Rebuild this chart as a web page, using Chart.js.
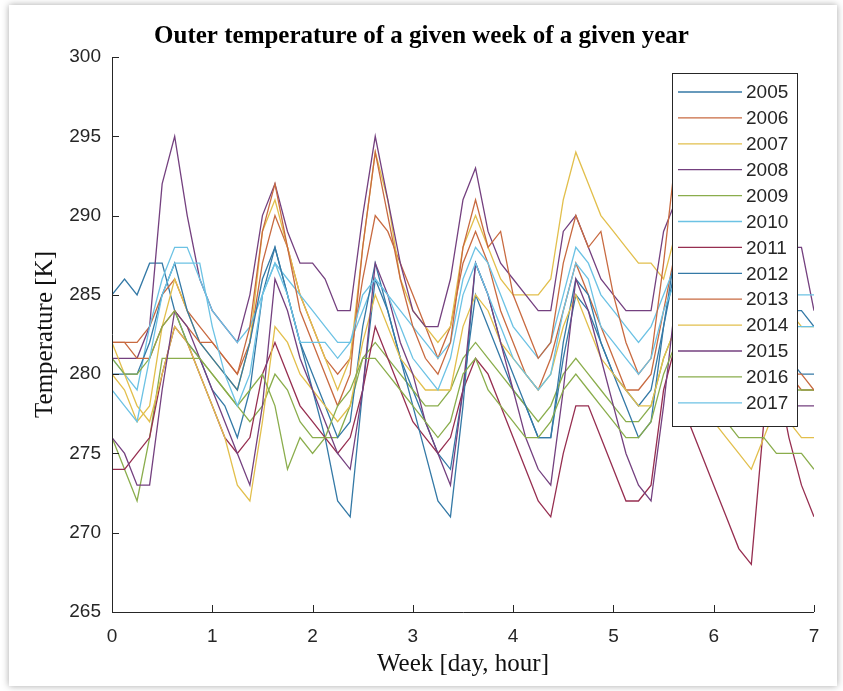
<!DOCTYPE html>
<html>
<head>
<meta charset="utf-8">
<title>Outer temperature of a given week of a given year</title>
<script src="https://cdn.jsdelivr.net/npm/chart.js@4.4.1/dist/chart.umd.min.js"></script>
<style>
    html, body { margin: 0; padding: 0; background: #fff; }
    #frame { position: relative; width: 843px; height: 691px; overflow: hidden; }
    #shadow {
        position: absolute; left: 9px; top: 5px; right: 6px; bottom: 5px;
        background: #fff; box-shadow: 0 0 7px rgba(0, 0, 0, 0.35);
    }
    #chart { position: absolute; left: 0; top: 0; }
</style>
</head>
<body>
<div id="frame">
    <div id="shadow"></div>
    <canvas id="chart" width="843" height="691"></canvas>
</div>
<script>
// Outer temperature [K], one value every 3 hours over a week (57 samples)
const stepHours = 3;
const years = ['2005', '2006', '2007', '2008', '2009', '2010', '2011',
               '2012', '2013', '2014', '2015', '2016', '2017'];
const dayTicks = [0, 1, 2, 3, 4, 5, 6, 7];
const tempTicks = [265, 270, 275, 280, 285, 290, 295, 300];

const t2005 = [285,286,285,287,287,284,282,281, 279,278,276,279,285,288,285,282,
               279,276,272,271,279,286,284,281, 279,277,275,274,279,285,283,281,
               279,278,276,276,281,285,284,282, 280,279,278,279,283,287,285,283,
               282,282,281,281,282,283,284,284, 283];
const t2006 = [282,282,282,283,285,286,284,283, 282,281,280,282,287,290,288,285,
               283,281,280,281,286,290,289,287, 285,283,281,283,287,289,287,284,
               282,280,279,281,284,287,285,283, 281,279,279,280,284,288,287,285,
               283,282,281,281,281,281,280,279, 279];
const t2007 = [280,279,277,278,283,286,284,282, 281,280,279,282,289,291,288,285,
               283,281,279,281,288,294,291,286, 284,283,282,283,288,290,288,286,
               285,285,285,286,291,294,292,290, 289,288,287,287,286,289,289,287,
               285,283,282,282,283,284,284,283, 283];
const t2008 = [281,281,281,283,292,295,290,286, 284,283,282,285,290,292,289,287,
               287,286,284,284,290,295,291,287, 284,283,283,286,291,293,289,287,
               286,285,284,284,289,290,288,286, 285,284,284,284,289,291,290,289,
               287,286,285,285,286,287,288,288, 284];
const t2009 = [276,274,272,276,281,281,281,281, 280,279,278,277,278,280,279,277,
               276,276,276,278,281,282,281,280, 279,278,278,279,281,282,281,280,
               279,278,277,278,280,281,280,279, 278,277,277,278,281,283,282,281,
               280,279,279,280,280,280,279,279, 279];
const t2010 = [281,280,279,283,286,288,288,286, 284,283,282,283,285,287,286,285,
               284,283,282,282,284,286,285,284, 283,282,281,282,286,288,287,285,
               283,282,281,282,285,288,287,285, 284,283,282,283,285,287,287,286,
               286,286,285,285,285,285,285,285, 285];
const t2011 = [274,274,275,276,280,283,282,280, 278,276,275,276,280,282,280,278,
               277,276,275,276,279,283,281,279, 277,276,275,276,279,281,280,278,
               276,274,272,271,275,278,278,276, 274,272,272,273,279,282,277,275,
               273,271,269,268,277,280,276,273, 271];
const t2012 = [280,280,280,282,285,287,284,282, 281,280,279,282,286,288,285,282,
               280,278,276,277,283,287,284,281, 278,275,272,271,278,287,285,282,
               280,278,276,276,282,286,285,282, 280,278,276,277,283,288,287,285,
               284,283,282,281,281,281,281,280, 280];
const t2013 = [282,282,281,281,283,284,283,282, 282,281,280,283,289,292,288,284,
               282,280,278,280,288,294,290,286, 283,281,280,282,288,291,288,289,
               285,283,281,282,287,290,288,289, 285,282,280,281,287,294,292,289,
               286,284,282,281,280,280,280,280, 279];
const t2014 = [282,280,278,277,280,283,282,280, 278,276,273,272,277,283,282,280,
               279,278,277,278,282,285,283,281, 280,279,279,279,283,285,284,282,
               281,280,279,280,283,285,283,281, 280,279,278,278,281,283,281,279,
               277,276,275,274,276,278,277,276, 276];
const t2015 = [276,275,273,273,279,284,283,281, 279,277,275,273,278,286,284,281,
               279,277,275,274,279,287,285,282, 280,277,275,273,279,287,285,282,
               279,276,274,273,279,286,284,281, 278,275,273,272,278,285,284,282,
               280,278,277,277,277,278,278,278, 278];
const t2016 = [281,280,280,281,283,284,282,281, 280,279,278,279,280,278,274,276,
               275,276,278,279,281,281,280,279, 278,277,276,277,280,281,279,278,
               277,276,276,277,279,280,279,278, 277,276,276,277,280,282,281,280,
               278,277,276,276,276,275,275,275, 274];
const t2017 = [279,278,277,281,285,287,287,287, 283,280,278,280,285,287,285,282,
               282,282,281,282,285,286,285,283, 281,280,279,281,285,287,285,283,
               281,280,279,280,284,287,286,283, 282,281,280,281,284,286,286,285,
               284,284,283,283,283,283,283,283, 283];

const series = [t2005, t2006, t2007, t2008, t2009, t2010, t2011,
                t2012, t2013, t2014, t2015, t2016, t2017];

// MATLAB default line colours, a little washed out like the scan
const lineColors = ['#3479a6', '#c86a40', '#e2bf4c', '#74407f', '#8aad4c', '#6cc2e4', '#962e50'];

const axisColor = '#262626';
const sansFamily = '"Liberation Sans", Arial, sans-serif';
const tickFont = { family: sansFamily, size: 19 };
const serifFont = '"Liberation Serif", "Times New Roman", serif';

function toPoints(values) {
    return values.map((v, i) => ({ x: i * stepHours / 24, y: v }));
}

const datasets = series.map((values, idx) => ({
    label: years[idx],
    data: toPoints(values),
    borderColor: lineColors[idx % lineColors.length],
    borderWidth: 1.3,
    pointRadius: 0,
    tension: 0,
    fill: false,
    // later years on top, as in the original plot
    order: series.length - 1 - idx
}));

// Axis lines with inward ticks (box off look)
const axesPlugin = {
    id: 'matlabAxes',
    afterDatasetsDraw(chart) {
        const { ctx, chartArea: a, scales: { x, y } } = chart;
        ctx.save();
        ctx.strokeStyle = axisColor;
        ctx.lineWidth = 1;
        ctx.beginPath();
        ctx.moveTo(a.left + 0.5, a.top);
        ctx.lineTo(a.left + 0.5, a.bottom + 0.5);
        ctx.lineTo(a.right, a.bottom + 0.5);
        y.ticks.forEach(t => {
            const py = Math.round(y.getPixelForValue(t.value)) + 0.5;
            ctx.moveTo(a.left, py);
            ctx.lineTo(a.left + 7, py);
        });
        x.ticks.forEach(t => {
            const px = Math.round(x.getPixelForValue(t.value)) + 0.5;
            ctx.moveTo(px, a.bottom);
            ctx.lineTo(px, a.bottom - 7);
        });
        ctx.stroke();
        ctx.restore();
    }
};

// Boxed legend in the upper right corner of the plot
const legendPlugin = {
    id: 'boxLegend',
    afterDraw(chart) {
        const { ctx, chartArea: a } = chart;
        const rowH = 25.9;
        const boxW = 125;
        const boxH = 353;
        const left = a.right - 17 - boxW;
        const top = a.top + 16;
        ctx.save();
        ctx.fillStyle = '#fff';
        ctx.fillRect(left, top, boxW, boxH);
        ctx.strokeStyle = axisColor;
        ctx.lineWidth = 1;
        ctx.strokeRect(Math.round(left) + 0.5, Math.round(top) + 0.5, boxW, boxH);
        ctx.font = '19px ' + sansFamily;
        ctx.textBaseline = 'middle';
        ctx.textAlign = 'left';
        chart.data.datasets.forEach((ds, i) => {
            const cy = top + 19 + i * rowH;
            ctx.strokeStyle = ds.borderColor;
            ctx.lineWidth = 1.3;
            ctx.beginPath();
            ctx.moveTo(left + 6, cy);
            ctx.lineTo(left + 70, cy);
            ctx.stroke();
            ctx.fillStyle = axisColor;
            ctx.fillText(ds.label, left + 74, cy + 1);
        });
        ctx.restore();
    }
};

new Chart(document.getElementById('chart'), {
    type: 'line',
    data: { datasets },
    plugins: [axesPlugin, legendPlugin],
    options: {
        responsive: false,
        animation: false,
        layout: { padding: 0 },
        plugins: {
            legend: { display: false },
            tooltip: { enabled: false },
            title: {
                display: true,
                text: 'Outer temperature of a given week of a given year',
                color: '#000',
                font: { family: serifFont, size: 25, weight: 'bold' },
                padding: { top: 22, bottom: 5 }
            }
        },
        scales: {
            x: {
                type: 'linear',
                min: 0,
                max: 7,
                afterFit: s => { s.height = 79; },
                afterBuildTicks: s => { s.ticks = dayTicks.map(v => ({ value: v })); },
                grid: { display: false, drawTicks: false, tickLength: 0 },
                border: { display: false },
                ticks: { color: axisColor, font: tickFont, padding: 13, maxRotation: 0 },
                title: {
                    display: true,
                    text: 'Week [day, hour]',
                    color: '#111',
                    font: { family: serifFont, size: 25 },
                    padding: { top: 0, bottom: 12 }
                }
            },
            y: {
                type: 'linear',
                min: 265,
                max: 300,
                afterFit: s => { s.width = 112; },
                afterBuildTicks: s => { s.ticks = tempTicks.map(v => ({ value: v })); },
                grid: { display: false, drawTicks: false, tickLength: 0 },
                border: { display: false },
                ticks: { color: axisColor, font: tickFont, padding: 11 },
                title: {
                    display: true,
                    text: 'Temperature [K]',
                    color: '#111',
                    font: { family: serifFont, size: 25 },
                    padding: { top: 30, bottom: 0 }
                }
            },
            // empty right-hand strip so the plot stops short of the canvas edge
            gap: {
                type: 'linear',
                position: 'right',
                min: 0,
                max: 1,
                afterFit: s => { s.width = 29; },
                grid: { display: false, drawTicks: false },
                border: { display: false },
                ticks: { display: false }
            }
        }
    }
});
</script>
</body>
</html>
